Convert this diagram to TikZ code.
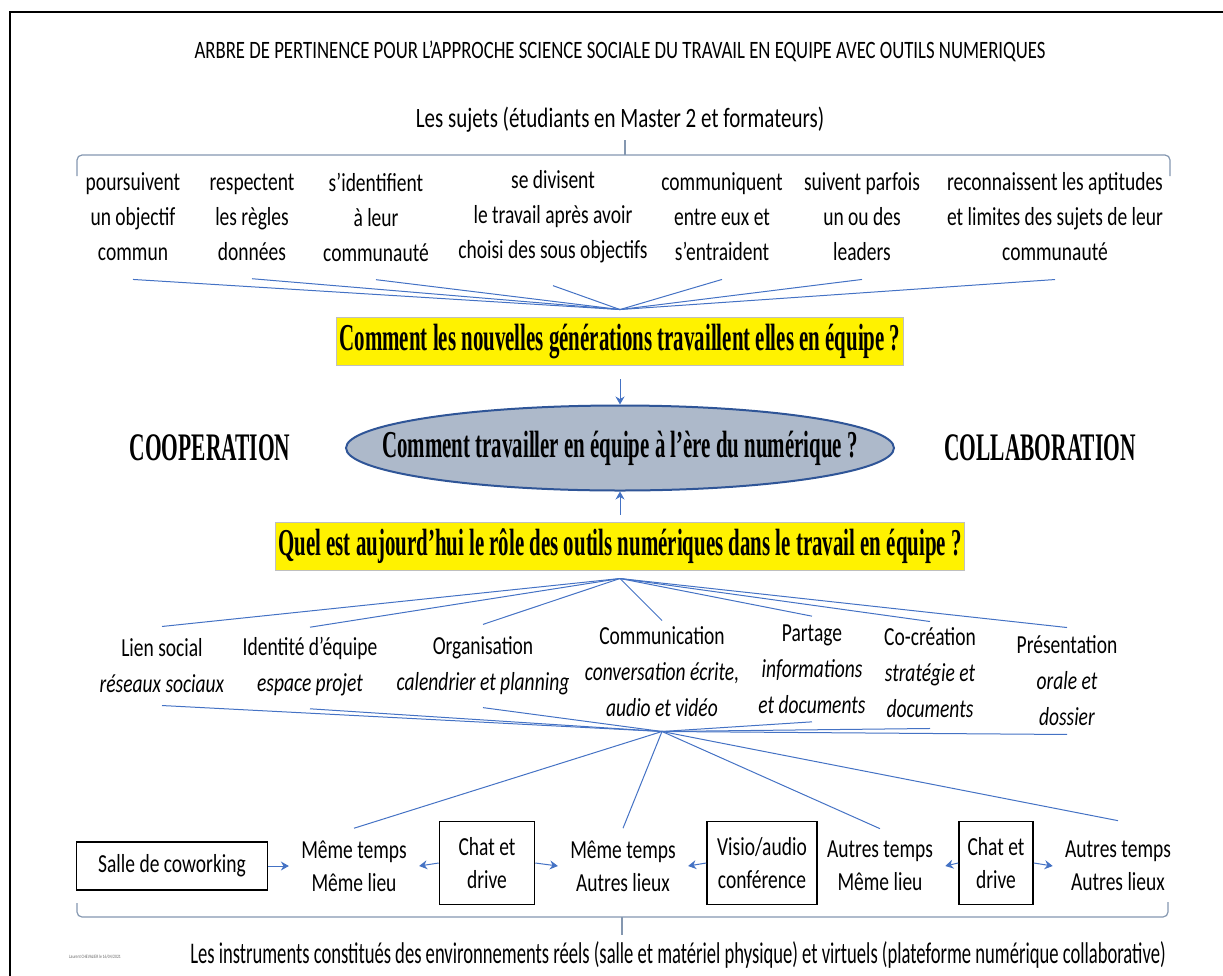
\documentclass[tikz,border=0pt]{standalone}
\usepackage{fontspec}
\setmainfont{Carlito}[FakeStretch=0.75]
\newfontfamily\etroit{Carlito}[FakeStretch=0.62]
\newfontfamily\qfont{Liberation Serif}[FakeStretch=0.55]
\usetikzlibrary{arrows.meta,positioning,shapes.geometric}
\definecolor{lienbleu}{HTML}{4472C4}
\definecolor{accolade}{HTML}{8497B0}
\definecolor{ovalbleu}{HTML}{ADB9CA}
\definecolor{bordbleu}{HTML}{2F5597}
\tikzset{>=Stealth,
  fil/.style={lienbleu,line width=.5pt},
  fleche/.style={lienbleu,line width=.5pt,-{Stealth[length=4pt,width=4.5pt]}},
  brace/.style={accolade,line width=.6pt},
  titre/.style={inner sep=0pt,font=\fontsize{12.5}{14}\selectfont},
  colonne/.style={inner sep=0pt,align=center,font=\fontsize{13}{17.5}\selectfont},
  role/.style={inner sep=0pt,align=center,font=\fontsize{13}{18}\selectfont},
  temps/.style={inner xsep=6pt,inner ysep=0pt,align=center,font=\fontsize{13}{16.5}\selectfont},
  outil/.style={draw,line width=.8pt,align=center,inner sep=0pt,font=\fontsize{13}{16.5}\selectfont},
  question/.style={fill=yellow,draw=black!25,line width=.4pt,inner xsep=1.5pt,minimum height=21pt,font=\qfont\bfseries\fontsize{19}{20}\selectfont},
  pole/.style={inner sep=0pt,font=\qfont\bfseries\fontsize{19.5}{21}\selectfont}}

\begin{document}
\begin{tikzpicture}[x=0.5pt,y=-0.5pt]
\useasboundingbox (0,0) rectangle (1223,976);
\draw[line width=1.1pt] (10,990) |- (1240,12);
\node[titre] (titre) at (620,51) {ARBRE DE PERTINENCE POUR L’APPROCHE SCIENCE SOCIALE DU TRAVAIL EN EQUIPE AVEC OUTILS NUMERIQUES};
\node[titre,font=\fontsize{14}{16}\selectfont] (sujets) at (620,120) {Les sujets (étudiants en Master 2 et formateurs)};
\draw[brace] (77,176) -- (77,160) to[out=90,in=180] (82,155) -- (1165,155) to[out=0,in=90] (1170,160) -- (1170,176);
\draw[brace] (625,155) -- (625,140);

% les sujets
\node[colonne] (c1) at (133,217) {poursuivent\\un objectif\\commun};
\node[colonne] (c2) at (252,217) {respectent\\les règles\\données};
\node[colonne] (c3) at (376,217) {s’identifient\\à leur\\communauté};
\node[colonne] (c4) at (553,217) {se divisent\\le travail après avoir\\choisi des sous objectifs};
\node[colonne] (c5) at (722,217) {communiquent\\entre eux et\\s’entraident};
\node[colonne] (c6) at (862,217) {suivent parfois\\un ou des\\leaders};
\node[colonne] (c7) at (1055,217) {reconnaissent les aptitudes\\et limites des sujets de leur\\communauté};

\node[question] (q1) at (620,341) {Comment les nouvelles générations travaillent elles en équipe ?};
\coordinate (noeudA) at ([yshift=3.5pt]q1.north);
\draw[fil] ([yshift=-9pt]c1.south) -- (noeudA);
\draw[fil] ([yshift=-9pt]c2.south) -- (noeudA);
\draw[fil] ([yshift=-9pt]c3.south) -- (noeudA);
\draw[fil] ([yshift=-11pt]c4.south) -- (noeudA);
\draw[fil] ([yshift=-9pt]c5.south) -- (noeudA);
\draw[fil] ([yshift=-9pt]c6.south) -- (noeudA);
\draw[fil] ([yshift=-9pt]c7.south) -- (noeudA);

% question centrale
\node[ellipse,draw=bordbleu,line width=1pt,fill=ovalbleu,minimum width=274pt,minimum height=42.5pt,inner sep=0pt,
  font=\qfont\bfseries\fontsize{19}{20}\selectfont] (ell) at (620,448) {\makebox[0pt]{Comment travailler en équipe à l’ère du numérique ?}};
\node[pole] (coop) at (210,448) {COOPERATION};
\node[pole] (collab) at (1040,448) {COLLABORATION};
\node[question] (q2) at (620,546) {Quel est aujourd’hui le rôle des outils numériques dans le travail en équipe ?};
\draw[fleche,shorten <=7pt] (q1.south) -- (ell.north);
\draw[fleche,shorten <=3.5pt] (q2.north) -- (ell.south);

% les roles
\node[role] (lien) at (162,666) {Lien social\\\textit{réseaux sociaux}};
\node[role] (ident) at (310,667) {Identité d’équipe\\\textit{espace projet}};
\node[role] (orga) at (483,666) {Organisation\\\textit{calendrier et planning}};
\node[role] (comm) at (662,672) {Communication\\\textit{conversation écrite,}\\\textit{audio et vidéo}};
\node[role] (part) at (812,669) {Partage\\\textit{informations}\\\textit{et documents}};
\node[role] (cocr) at (930,673) {Co-création\\\textit{stratégie et}\\\textit{documents}};
\node[role] (pres) at (1067,681) {Présentation\\\textit{orale et}\\\textit{dossier}};
\coordinate (noeudB) at ([yshift=-4pt]q2.south);
\draw[fil] (noeudB) -- ([yshift=6pt]lien.north);
\draw[fil] (noeudB) -- ([yshift=5pt]ident.north);
\draw[fil] (noeudB) -- ([yshift=6pt]orga.north);
\draw[fil] (noeudB) -- ([yshift=3pt]comm.north);
\draw[fil] (noeudB) -- ([yshift=4pt]part.north);
\draw[fil] (noeudB) -- ([yshift=3pt]cocr.north);
\draw[fil] (noeudB) -- ([yshift=4pt]pres.north);

% les instruments
\node[outil,minimum width=95.5pt,minimum height=24pt] (salle) at (172,866) {Salle de coworking};
\node[temps] (mm) at (354,866) {Même temps\\Même lieu};
\node[outil,minimum width=47.5pt,minimum height=41.5pt] (chatA) at (487,863) {Chat et\\drive};
\node[temps] (ma) at (623,866) {Même temps\\Autres lieux};
\node[outil,minimum width=55pt,minimum height=41.5pt] (visio) at (762,863) {Visio/audio\\conférence};
\node[temps] (am) at (880,866) {Autres temps\\Même lieu};
\node[outil,minimum width=37pt,minimum height=41.5pt] (chatB) at (996,863) {Chat et\\drive};
\node[temps] (aa) at (1118,866) {Autres temps\\Autres lieux};
\draw[fleche] (salle.east) -- (mm.west);
\draw[fleche] (chatA.west) -- (mm.east);
\draw[fleche] (chatA.east) -- (ma.west);
\draw[fleche] (visio.west) -- (ma.east);
\draw[fleche] (chatB.west) -- (am.east);
\draw[fleche] (chatB.east) -- (aa.west);

\coordinate (hub) at ([yshift=-7pt]comm.south);
\draw[fil] (hub) -- ([yshift=-6pt]lien.south);
\draw[fil] (hub) -- ([yshift=-6pt]ident.south);
\draw[fil] (hub) -- ([yshift=-6pt]orga.south);
\draw[fil] (hub) -- ([yshift=-4pt]part.south);
\draw[fil] (hub) -- ([yshift=-5pt]cocr.south);
\draw[fil] (hub) -- ([yshift=-4pt]pres.south);
\draw[fil] (hub) -- ([yshift=6pt]mm.north);
\draw[fil] (hub) -- ([yshift=6pt]ma.north);
\draw[fil] (hub) -- ([yshift=6pt]am.north);
\draw[fil] (hub) -- ([yshift=10pt]aa.north);

\node[inner sep=0pt,font=\etroit\fontsize{15}{17}\selectfont] (instr) at (678,955) {Les instruments constitués des environnements réels (salle et matériel physique) et virtuels (plateforme numérique collaborative)};
\draw[brace] (77,903) -- (77,912) to[out=-90,in=180] (82,917) -- (1163,917) to[out=0,in=-90] (1168,912) -- (1168,902);
\draw[brace] (622,917) -- (622,935);
\node[titre,font=\fontsize{2.5}{3}\selectfont,black!60] (auteur) at (95,957) {Laurent CHEVALIER le 16/04/2021};
\end{tikzpicture}
\end{document}
